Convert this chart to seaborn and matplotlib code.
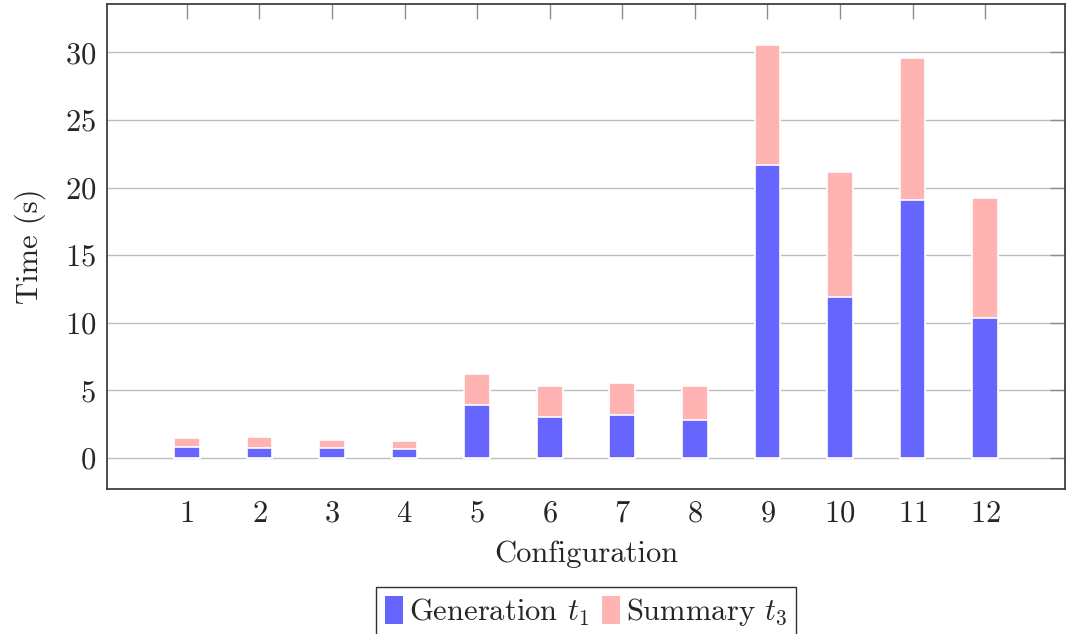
import matplotlib
matplotlib.use('Agg')
import matplotlib.pyplot as plt
import seaborn as sns
import numpy as np
from matplotlib.patches import Patch

# values
configs = [1, 2, 3, 4, 5, 6, 7, 8, 9, 10, 11, 12]
generation = [0.79, 0.74, 0.72, 0.67, 3.95, 3.02, 3.21, 2.79, 21.65, 11.88, 19.06, 10.33]
summary = [0.71, 0.84, 0.64, 0.61, 2.30, 2.29, 2.35, 2.57, 8.91, 9.28, 10.50, 8.93]
total = [g + s for g, s in zip(generation, summary)]

blue = '#6666FF'
pink = '#FFB3B3'

sns.set_style('white')
plt.rcParams['font.family'] = ['cmr10', 'DejaVu Serif']
plt.rcParams['mathtext.fontset'] = 'cm'
plt.rcParams['axes.formatter.use_mathtext'] = True
plt.rcParams['axes.unicode_minus'] = False

fig = plt.figure(figsize=(10.68, 6.34), dpi=100)
ax = fig.add_axes([0.1002, 0.2282, 0.8970, 0.7655])

# stacked: draw the full height in pink, then the generation part in blue
sns.barplot(x=configs, y=total, color=pink, saturation=1, native_scale=True,
            width=0.355, edgecolor='white', linewidth=1.2, ax=ax)
sns.barplot(x=configs, y=generation, color=blue, saturation=1, native_scale=True,
            width=0.355, edgecolor='white', linewidth=1.2, ax=ax)

ax.set_xlim(-0.1, 13.1)
ax.set_ylim(-2.31, 33.57)
ax.set_xticks(configs)
ax.set_yticks([0, 5, 10, 15, 20, 25, 30])
ax.set_axisbelow(True)
ax.yaxis.grid(True, color='#bdbdbd', linewidth=1.0)
ax.xaxis.grid(False)

for sp in ax.spines.values():
    sp.set_visible(True)
    sp.set_color('#404040')
    sp.set_linewidth(1.3)

ax.tick_params(axis='both', direction='in', length=11, width=1.0, color='#8c8c8c',
               labelsize=22, top=True, right=True, pad=8)
ax.set_xlabel('Configuration', fontsize=22, labelpad=9)
ax.set_ylabel('Time (s)', fontsize=22, labelpad=13)

handles = [Patch(facecolor=blue, edgecolor='none'), Patch(facecolor=pink, edgecolor='none')]
leg = fig.legend(handles, ['Generation $t_1$', 'Summary $t_3$'], ncol=2,
                 loc='upper center', bbox_to_anchor=(0.5487, 0.0741),
                 fontsize=22, frameon=True, fancybox=False, framealpha=1,
                 edgecolor='#303030', handlelength=0.6, handleheight=1.0,
                 handletextpad=0.2, columnspacing=0.4, borderpad=0.3,
                 borderaxespad=0)
leg.get_frame().set_linewidth(1.0)

fig.savefig('out.png', dpi=100)
